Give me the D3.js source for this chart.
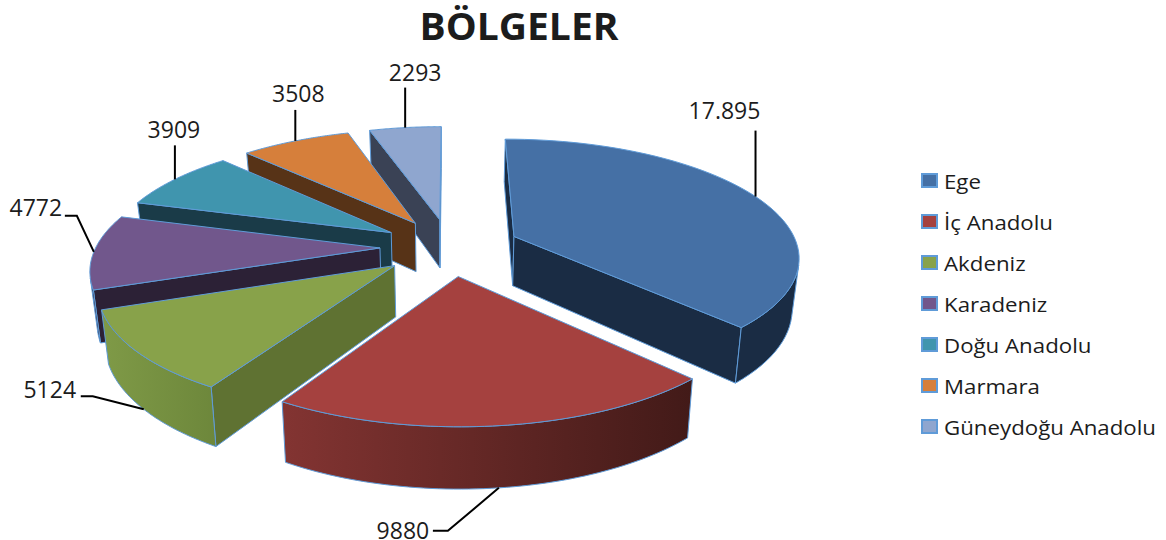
<!DOCTYPE html>
<html>
<head>
<meta charset="utf-8">
<script src="https://cdn.jsdelivr.net/npm/d3@7"></script>
<style>
  html, body { margin: 0; background: #fff; }
  text { font-family: "Open Sans", sans-serif; fill: #1c1c1c; }
</style>
</head>
<body>
<svg id="chart"></svg>
<script>
const regions = ["Ege", "İç Anadolu", "Akdeniz", "Karadeniz", "Doğu Anadolu", "Marmara", "Güneydoğu Anadolu"];
const counts = [17895, 9880, 5124, 4772, 3909, 3508, 2293];
const countLabels = ["17.895", "9880", "5124", "4772", "3909", "3508", "2293"];

const topColors = ["#4570a5", "#a5413f", "#88a24a", "#71578c", "#4095ae", "#d67f3b", "#8fa6cf"];
const wallColors = ["#1a2c44", "#421a18", "#5f7232", "#2c2136", "#1a3b48", "#573317", "#3a4255"];
const rimLeft = ["#1a2c44", "#833432", "#7f9a47", "#2c2136", "#1a3b48", "#573317", "#3a4255"];
const rimRight = ["#1a2c44", "#421a18", "#6d873b", "#2c2136", "#1a3b48", "#573317", "#3a4255"];

const edgeColor = "#5f9bd8";

// pie geometry
const cx = 450, cy = 247;
const radius = 284, explode = 70, thickness = 50;
const tiltK = 0.408, persp = 0.000559, baseShrink = 0.98;

const svg = d3.select("#chart").attr("width", 1166).attr("height", 540);
const defs = svg.append("defs");

const pie = d3.pie().sort(null).startAngle(0).endAngle(2 * Math.PI);
const arcs = pie(counts);

// ground point (X right, Y away from viewer) -> screen
function project(X, Y, low) {
  const u = -Y;
  const s = 1 / (1 - persp * u);
  const drop = low ? thickness * s : 0;
  const shrink = low ? baseShrink : 1;
  return [cx + X * s * shrink, cy + tiltK * u * s + drop];
}

function apexOf(d) {
  const mid = (d.startAngle + d.endAngle) / 2;
  return [explode * Math.sin(mid), explode * Math.cos(mid)];
}

function rimPoint(d, a, low) {
  const o = apexOf(d);
  return project(o[0] + radius * Math.sin(a), o[1] + radius * Math.cos(a), low);
}

function apexPoint(d, low) {
  const o = apexOf(d);
  return project(o[0], o[1], low);
}

function cross(p, q, r) {
  return (q[0] - p[0]) * (r[1] - q[1]) - (q[1] - p[1]) * (r[0] - q[0]);
}

const line = d3.line().curve(d3.curveLinear);
const closed = pts => line(pts) + "Z";

// back to front
const order = d3.range(arcs.length).sort((a, b) => apexOf(arcs[b])[1] - apexOf(arcs[a])[1]);

const slices = svg.append("g").selectAll("g.slice")
  .data(order)
  .enter()
  .append("g")
  .attr("class", "slice");

slices.each(function(i) {
  const d = arcs[i];
  const g = d3.select(this);
  const angles = d3.range(0, 61).map(t => d.startAngle + (d.endAngle - d.startAngle) * t / 60);

  // radial walls
  [d.startAngle, d.endAngle].forEach((a, k) => {
    const quad = [apexPoint(d, false), rimPoint(d, a, false), rimPoint(d, a, true), apexPoint(d, true)];
    const c = cross(quad[0], quad[1], quad[2]);
    if ((k === 0 && c < 0) || (k === 1 && c > 0)) {
      g.append("path")
        .attr("d", closed(quad))
        .attr("fill", wallColors[i])
        .attr("stroke", edgeColor)
        .attr("stroke-width", 1)
        .attr("stroke-linejoin", "round");
    }
  });

  // outer rim, only the part turned to the viewer
  const visible = angles.filter((a, t) => {
    const next = angles[Math.min(t + 1, 60)];
    const prev = angles[Math.max(t - 1, 0)];
    const p = rimPoint(d, prev, false), q = rimPoint(d, next, false), r = rimPoint(d, next, true);
    return cross(p, q, r) < 0;
  });
  if (visible.length > 1) {
    const gradId = "rim" + i;
    const grad = defs.append("linearGradient").attr("id", gradId);
    grad.append("stop").attr("offset", "0%").attr("stop-color", rimLeft[i]);
    grad.append("stop").attr("offset", "100%").attr("stop-color", rimRight[i]);
    const pts = visible.map(a => rimPoint(d, a, false))
      .concat(visible.slice().reverse().map(a => rimPoint(d, a, true)));
    g.append("path")
      .attr("d", closed(pts))
      .attr("fill", `url(#${gradId})`)
      .attr("stroke", edgeColor)
      .attr("stroke-width", 1)
      .attr("stroke-linejoin", "round");
  }

  // top face
  const top = [apexPoint(d, false)].concat(angles.map(a => rimPoint(d, a, false)));
  g.append("path")
    .attr("d", closed(top))
    .attr("fill", topColors[i])
    .attr("stroke", edgeColor)
    .attr("stroke-width", 1)
    .attr("stroke-linejoin", "round");
});

/* -------------------------
   LEADERS AND VALUE LABELS
-------------------------- */

// offsets from the slice rim to the leader bends, per slice
const leaderBends = [
  [[0, -66]],
  [[-51, 43], [-66, 43]],
  [[-51, -13], [-63, -13]],
  [[-17, -36], [-29, -36]],
  [[0, -34]],
  [[0, -31]],
  [[0, -40]]
];
const labelShift = [[-31, -21], [-30, -1], [-31, -7], [-29, -9], [-1, -16], [3, -17], [10, -16]];

arcs.forEach((d, i) => {
  const mid = (d.startAngle + d.endAngle) / 2;
  const frontRim = Math.cos(mid) < -0.4;
  const start = rimPoint(d, mid, frontRim);
  const pts = [start].concat(leaderBends[i].map(b => [start[0] + b[0], start[1] + b[1]]));
  svg.append("path")
    .attr("d", line(pts))
    .attr("fill", "none")
    .attr("stroke", "#000")
    .attr("stroke-width", 2);
  const last = pts[pts.length - 1];
  svg.append("text")
    .attr("x", last[0] + labelShift[i][0])
    .attr("y", last[1] + labelShift[i][1])
    .attr("text-anchor", "middle")
    .attr("dominant-baseline", "central")
    .attr("font-size", 23)
    .text(countLabels[i]);
});

/* -------------------------
   TITLE
-------------------------- */

svg.append("text")
  .attr("transform", "translate(519,40) scale(1.054,1)")
  .attr("text-anchor", "middle")
  .attr("font-size", 37)
  .attr("font-weight", 700)
  .text("BÖLGELER");

/* -------------------------
   LEGEND
-------------------------- */

const legendY = d3.scalePoint().domain(regions).range([181, 427]);

const legend = svg.selectAll("g.legend")
  .data(regions)
  .enter()
  .append("g")
  .attr("class", "legend")
  .attr("transform", d => `translate(922,${legendY(d)})`);

legend.append("rect")
  .attr("x", 0)
  .attr("y", -7)
  .attr("width", 15)
  .attr("height", 13)
  .attr("fill", (d, i) => topColors[i])
  .attr("stroke", edgeColor)
  .attr("stroke-width", 2);

// legend text in the reference is stretched sideways
legend.append("text")
  .attr("transform", "translate(22,0) scale(1.113,1)")
  .attr("dominant-baseline", "central")
  .attr("font-size", 20)
  .text(d => d);
</script>
</body>
</html>
